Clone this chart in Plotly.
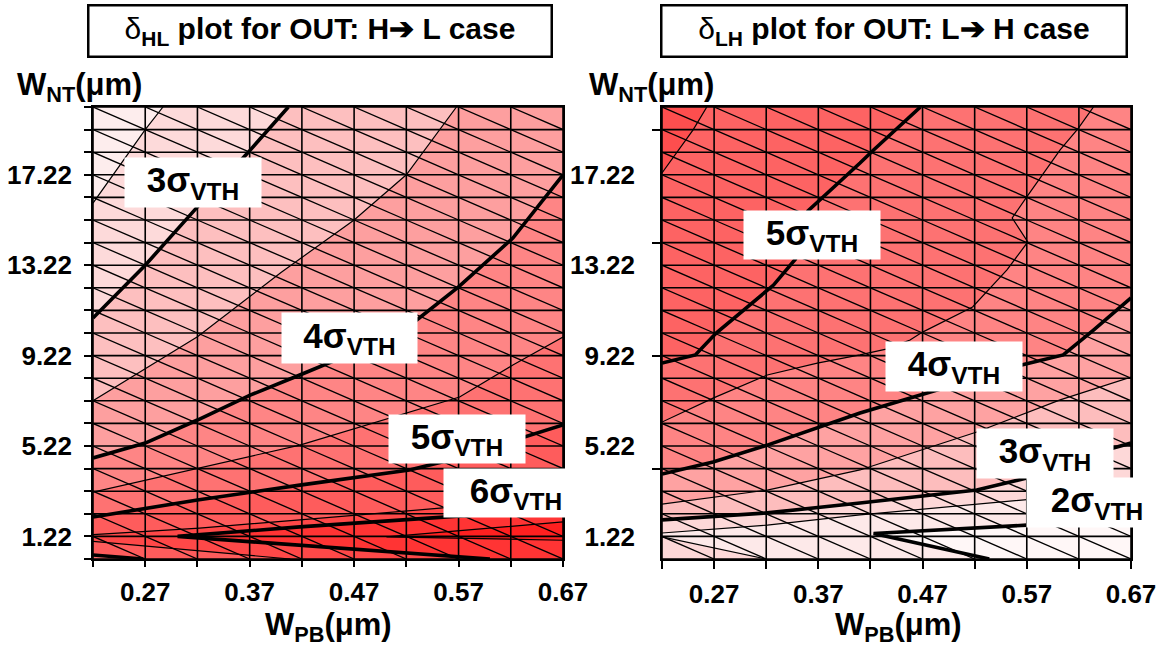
import plotly.graph_objects as go

FIG_W, FIG_H = 1164, 647
FONT = "Liberation Sans, Arial, sans-serif"

# ---------------- grid / ticks ----------------
X_NODES = [0.22, 0.27, 0.32, 0.37, 0.42, 0.47, 0.52, 0.57, 0.62, 0.67]
Y_NODES = [0.22, 1.22, 2.22, 3.22, 4.22, 5.22, 6.22, 7.22, 8.22, 9.22, 10.22,
           11.22, 12.22, 13.22, 14.22, 15.22, 16.22, 17.22, 18.22, 19.22, 20.22]
X_TICK_TEXT = ["", "0.27", "", "0.37", "", "0.47", "", "0.57", "", "0.67"]
Y_LABEL_VALS = [1.22, 5.22, 9.22, 13.22, 17.22]
Y_LABEL_TEXT = ["1.22", "5.22", "9.22", "13.22", "17.22"]
RIGHT_Y_MARKS = [4.22, 9.22, 14.22, 19.22]

# ---------------- left panel: delta_HL contours (x = W_PB, y = W_NT) ----------------
HL25_X = [0.220, 0.270, 0.287]
HL25_Y = [15.97, 19.22, 20.22]
HL30_X = [0.220, 0.270, 0.320, 0.368, 0.407]
HL30_Y = [10.88, 13.22, 15.80, 18.18, 20.22]
HL35_X = [0.220, 0.320, 0.400, 0.470, 0.520, 0.568]
HL35_Y = [7.22, 10.05, 12.90, 15.22, 17.22, 20.22]
HL40_X = [0.220, 0.270, 0.320, 0.371, 0.418, 0.476, 0.530, 0.570, 0.622, 0.670]
HL40_Y = [4.69, 5.35, 6.37, 7.48, 8.36, 9.47, 10.80, 12.26, 14.42, 17.22]
HL45_X = [0.220, 0.418, 0.571, 0.622, 0.670]
HL45_Y = [3.18, 5.26, 7.39, 8.80, 10.04]
HL50_X = [0.220, 0.320, 0.418, 0.523, 0.562, 0.633, 0.670]
HL50_Y = [2.08, 2.83, 3.49, 4.16, 4.60, 5.62, 6.15]
HL50B_X = [0.268, 0.220]
HL50B_Y = [0.22, 0.40]
HL55_X = [0.220, 0.322, 0.418, 0.555, 0.670]
HL55_Y = [1.30, 1.59, 1.95, 2.48, 2.96]
HL55B_X = [0.409, 0.220]
HL55B_Y = [0.22, 1.00]
HL60_X = [0.600, 0.301, 0.418, 0.555, 0.670]
HL60_Y = [0.22, 1.22, 1.64, 2.08, 2.43]
HL65_X = [0.670, 0.501, 0.670]
HL65_Y = [1.05, 1.20, 1.86]

# band colours: <2.5, >2.5, >3, >3.5, >4, >4.5, >5, >5.5, >6, >6.5
HL_COLORS = ["#fdeded", "#fddada", "#fdbfbf", "#fd9f9f", "#fe8585",
             "#fe7272", "#fe5c5c", "#fe4848", "#ff3434", "#ff2020"]

# ---------------- right panel: delta_LH contours ----------------
LH55_X = [0.220, 0.250, 0.263]
LH55_Y = [17.30, 19.22, 20.22]
LH50_X = [0.220, 0.252, 0.272, 0.327, 0.348, 0.360, 0.410, 0.423, 0.468]
LH50_Y = [8.89, 9.25, 10.22, 12.34, 13.49, 15.62, 17.74, 18.32, 20.22]
LH45_X = [0.220, 0.269, 0.321, 0.369, 0.410, 0.435, 0.458, 0.470, 0.518,
          0.551, 0.571, 0.556, 0.570, 0.602, 0.619, 0.634]
LH45_Y = [6.28, 7.34, 8.36, 8.89, 9.25, 9.51, 9.91, 10.26, 11.37,
          13.01, 14.25, 15.31, 16.24, 18.32, 19.25, 20.22]
LH40_X = [0.220, 0.269, 0.321, 0.410, 0.484, 0.565, 0.605, 0.634, 0.670]
LH40_Y = [3.98, 4.51, 5.26, 6.68, 7.70, 8.80, 9.25, 10.35, 11.77]
LH35_X = [0.220, 0.321, 0.410, 0.522, 0.602, 0.670]
LH35_Y = [2.65, 3.27, 4.16, 5.84, 7.26, 8.27]
LH30_X = [0.220, 0.321, 0.410, 0.522, 0.570, 0.612, 0.653, 0.670]
LH30_Y = [1.95, 2.26, 2.70, 3.27, 3.80, 4.51, 5.13, 5.35]
LH25_X = [0.220, 0.321, 0.410, 0.570, 0.670]
LH25_Y = [1.37, 1.72, 2.17, 2.83, 3.27]
LH25B_X = [0.320, 0.220]
LH25B_Y = [0.22, 1.20]
LH20_X = [0.534, 0.423, 0.570, 0.670]
LH20_Y = [0.22, 1.35, 1.72, 1.86]

# band colours: >5.5, <5.5, <5, <4.5, <4, <3.5, <3, <2.5, <2
LH_COLORS = ["#fd4e4e", "#fd6363", "#fd7272", "#fe8484", "#fea2a2",
             "#fdbdbd", "#fdd8d8", "#fde9e9", "#fff7f7"]

X0, X1 = X_NODES[0], X_NODES[-1]
Y0, Y1 = Y_NODES[0], Y_NODES[-1]
TOP_CLOSE = ([X1, X1, X0], [Y1, Y0, Y0])
RIGHT_CLOSE = ([X1, X0], [Y0, Y0])
BR = ([X1], [Y0])

fig = go.Figure()


def poly(parts, color, xa, ya):
    xs, ys = [], []
    for px, py in parts:
        xs += list(px)
        ys += list(py)
    fig.add_trace(go.Scatter(x=xs, y=ys, fill="toself", fillcolor=color, mode="lines",
                             line=dict(width=0, color=color), hoverinfo="skip",
                             showlegend=False, xaxis=xa, yaxis=ya))


def lines(xs, ys, width, xa, ya, color="black"):
    fig.add_trace(go.Scatter(x=xs, y=ys, mode="lines", line=dict(width=width, color=color),
                             hoverinfo="skip", showlegend=False, xaxis=xa, yaxis=ya))


def mesh(xa, ya):
    gx, gy = [], []
    for x in X_NODES:
        gx += [x, x, None]
        gy += [Y0, Y1, None]
    for y in Y_NODES:
        gx += [X0, X1, None]
        gy += [y, y, None]
    dx, dy = [], []
    for i in range(len(X_NODES) - 1):
        for j in range(len(Y_NODES) - 1):
            dx += [X_NODES[i], X_NODES[i + 1], None]
            dy += [Y_NODES[j + 1], Y_NODES[j], None]
    lines(dx, dy, 1.35, xa, ya, "#000000")
    lines(gx, gy, 1.6, xa, ya, "#000000")


rect = ([X0, X1, X1, X0], [Y0, Y0, Y1, Y1])

# ---- left panel fills ----
poly([rect], HL_COLORS[0], "x", "y")
poly([(HL25_X, HL25_Y), TOP_CLOSE], HL_COLORS[1], "x", "y")
poly([(HL30_X, HL30_Y), TOP_CLOSE], HL_COLORS[2], "x", "y")
poly([(HL35_X, HL35_Y), TOP_CLOSE], HL_COLORS[3], "x", "y")
poly([(HL40_X, HL40_Y), RIGHT_CLOSE], HL_COLORS[4], "x", "y")
poly([(HL45_X, HL45_Y), RIGHT_CLOSE], HL_COLORS[5], "x", "y")
poly([(HL50_X, HL50_Y), BR, (HL50B_X, HL50B_Y)], HL_COLORS[6], "x", "y")
poly([(HL55_X, HL55_Y), BR, (HL55B_X, HL55B_Y)], HL_COLORS[7], "x", "y")
poly([(HL60_X, HL60_Y), BR], HL_COLORS[8], "x", "y")
poly([(HL65_X, HL65_Y)], HL_COLORS[9], "x", "y")
mesh("x", "y")
for cx, cy in [(HL25_X, HL25_Y), (HL35_X, HL35_Y), (HL45_X, HL45_Y),
               (HL55_X, HL55_Y), (HL55B_X, HL55B_Y), (HL65_X, HL65_Y)]:
    lines(cx, cy, 1.2, "x", "y")
for cx, cy in [(HL30_X, HL30_Y), (HL40_X, HL40_Y), (HL50_X, HL50_Y),
               (HL50B_X, HL50B_Y), (HL60_X, HL60_Y)]:
    lines(cx, cy, 3.6, "x", "y")

# ---- right panel fills ----
poly([rect], LH_COLORS[0], "x2", "y2")
poly([(LH55_X, LH55_Y), TOP_CLOSE], LH_COLORS[1], "x2", "y2")
poly([(LH50_X, LH50_Y), TOP_CLOSE], LH_COLORS[2], "x2", "y2")
poly([(LH45_X, LH45_Y), TOP_CLOSE], LH_COLORS[3], "x2", "y2")
poly([(LH40_X, LH40_Y), RIGHT_CLOSE], LH_COLORS[4], "x2", "y2")
poly([(LH35_X, LH35_Y), RIGHT_CLOSE], LH_COLORS[5], "x2", "y2")
poly([(LH30_X, LH30_Y), RIGHT_CLOSE], LH_COLORS[6], "x2", "y2")
poly([(LH25_X, LH25_Y), BR, (LH25B_X, LH25B_Y)], LH_COLORS[7], "x2", "y2")
poly([(LH20_X, LH20_Y), BR], LH_COLORS[8], "x2", "y2")
mesh("x2", "y2")
for cx, cy in [(LH55_X, LH55_Y), (LH45_X, LH45_Y), (LH35_X, LH35_Y),
               (LH25_X, LH25_Y), (LH25B_X, LH25B_Y)]:
    lines(cx, cy, 1.2, "x2", "y2")
for cx, cy in [(LH50_X, LH50_Y), (LH40_X, LH40_Y), (LH30_X, LH30_Y), (LH20_X, LH20_Y)]:
    lines(cx, cy, 3.6, "x2", "y2")

# empty trace so the tick-mark overlay axis is drawn
fig.add_trace(go.Scatter(x=[None], y=[None], mode="lines", showlegend=False,
                         hoverinfo="skip", xaxis="x2", yaxis="y3"))

TICKFONT = dict(family=FONT, size=26, color="black", weight="bold")
YDOM = [1 - 559 / FIG_H, 1 - 107 / FIG_H]
common_x = dict(range=[X0, X1], tickvals=X_NODES, ticktext=X_TICK_TEXT, ticks="outside",
                tickcolor="black", tickwidth=1.5, showgrid=False, zeroline=False,
                showline=True, mirror=True, linecolor="black", linewidth=1.5,
                tickfont=TICKFONT, ticklabelstandoff=3, automargin=False)
common_y = dict(range=[Y0, Y1], showgrid=False, zeroline=False, showline=True, mirror=True,
                linecolor="black", linewidth=1.5, tickfont=TICKFONT, tickcolor="black",
                tickwidth=1.5, automargin=False)

fig.update_layout(
    width=FIG_W, height=FIG_H, autosize=False,
    margin=dict(l=0, r=0, t=0, b=0, pad=0),
    paper_bgcolor="white", plot_bgcolor="white", showlegend=False,
    xaxis=dict(domain=[93 / FIG_W, 563 / FIG_W], anchor="y", ticklen=6, **common_x),
    yaxis=dict(domain=YDOM, anchor="x", tickvals=Y_NODES,
               ticktext=[(f"{v:.2f}" if v in Y_LABEL_VALS else "") for v in Y_NODES],
               ticks="outside", ticklen=7, ticklabelstandoff=7, **common_y),
    xaxis2=dict(domain=[662 / FIG_W, 1131 / FIG_W], anchor="y2", ticklen=8, **common_x),
    yaxis2=dict(domain=YDOM, anchor="x2", tickvals=Y_LABEL_VALS, ticktext=Y_LABEL_TEXT,
                ticks="", ticklabelstandoff=20, **common_y),
    yaxis3=dict(overlaying="y2", anchor="x2", side="left", range=[Y0, Y1],
                tickvals=RIGHT_Y_MARKS, ticks="outside", ticklen=9, tickcolor="black",
                tickwidth=1.5, showticklabels=False, showline=False, showgrid=False,
                zeroline=False, automargin=False),
)


def P(px, py):
    return px / FIG_W, 1 - py / FIG_H


ann = []


def add_ann(text, cx, cy, size, w=None, h=None, bg=None, border=0):
    x, y = P(cx, cy)
    d = dict(text=text, x=x, y=y, xref="paper", yref="paper", xanchor="center",
             yanchor="middle", showarrow=False, font=dict(family=FONT, size=size, color="black"),
             borderpad=0)
    if w is not None:
        d["width"] = w
        d["height"] = h
    if bg:
        d["bgcolor"] = bg
    if border:
        d["bordercolor"] = "black"
        d["borderwidth"] = border
    ann.append(d)


# titles
add_ann("δ<sub><b>HL</b></sub><b> plot for OUT: H➔ L case</b>", 320, 31, 30,
        w=466 - 5, h=54 - 5, bg="white", border=2.5)
add_ann("δ<sub><b>LH</b></sub><b> plot for OUT: L➔ H case</b>", 894, 31, 30,
        w=468 - 5, h=54 - 5, bg="white", border=2.5)
# axis titles
add_ann("<b>W<sub>NT</sub>(μm)</b>", 79, 87, 31)
add_ann("<b>W<sub>NT</sub>(μm)</b>", 651, 87, 31)
add_ann("<b>W<sub>PB</sub>(μm)</b>", 328, 627, 31)
add_ann("<b>W<sub>PB</sub>(μm)</b>", 898, 627, 31)
# sigma labels
SIG = "<b>{}σ<sub>VTH</sub></b>"
add_ann(SIG.format(3), 193, 182.5, 35, 136, 49, "white")
add_ann(SIG.format(4), 349.5, 338, 35, 135, 50, "white")
add_ann(SIG.format(5), 457, 439, 35, 136, 48, "white")
add_ann(SIG.format(6), 516, 493, 35, 144, 48, "white")
add_ann(SIG.format(5), 812, 235, 35, 136, 48, "white")
add_ann(SIG.format(4), 954, 366.5, 35, 136, 49, "white")
add_ann(SIG.format(3), 1045, 453.5, 35, 136, 49, "white")
add_ann(SIG.format(2), 1097, 502.5, 35, 140, 49, "white")

fig.update_layout(annotations=ann)
fig.write_html(
    "out.html",
    config={"responsive": False},
    post_script="document.body.style.margin='0';document.body.style.overflow='hidden';",
)
